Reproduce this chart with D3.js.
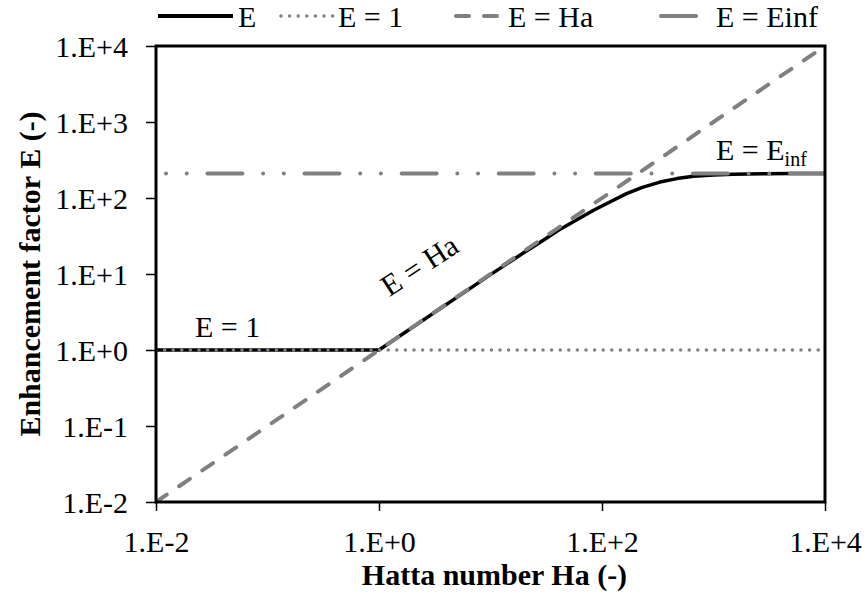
<!DOCTYPE html>
<html>
<head>
<meta charset="utf-8">
<script src="https://cdn.jsdelivr.net/npm/d3@7/dist/d3.min.js"></script>
</head>
<body style="margin:0;background:#fff">
<svg id="chart" width="867" height="598" font-family="Liberation Serif" style="display:block"></svg>
<script>
// Enhancement factor vs Hatta number (log-log)
const haTicks = [1e-2, 1e0, 1e2, 1e4];
const haTickLabels = ["1.E-2", "1.E+0", "1.E+2", "1.E+4"];
const eTicks = [1e-2, 1e-1, 1e0, 1e1, 1e2, 1e3, 1e4];
const eTickLabels = ["1.E-2", "1.E-1", "1.E+0", "1.E+1", "1.E+2", "1.E+3", "1.E+4"];

// E curve
const haE = [0.01, 1, 10, 20, 30, 40, 60, 84, 120, 166, 230, 331, 470, 660, 1000, 1500, 2000, 3000, 5000, 10000];
const eE  = [1, 1, 9.8, 19.2, 28, 37, 52, 69, 90, 114, 138, 162, 180, 193, 201, 205, 207.5, 208.5, 209.3, 209.7];

// Limiting lines
const haOne = [0.01, 10000];
const eOne  = [1, 1];
const haHa  = [0.01, 10000];
const eHa   = [0.01, 10000];
const haInf = [10000, 0.01];
const eInf  = [210, 210];

const seriesNames = ["E", "E = 1", "E = Ha", "E = Einf"];

const setFont = sel => sel
  .attr("font-family", "Liberation Serif")
  .style("font-family", '"Liberation Serif", "Times New Roman", serif')
  .attr("fill", "#000");

const svg = d3.select("#chart");
const margin = { left: 156, right: 42, top: 46, bottom: 96 };
const W = 867, H = 598;

const x = d3.scaleLog().domain([1e-2, 1e4]).range([margin.left, W - margin.right]);
const y = d3.scaleLog().domain([1e-2, 1e4]).range([H - margin.bottom, margin.top]);

const grey = "#808080";
const styles = [
  { stroke: "#000", width: 3.5, dash: null, cap: "butt" },
  { stroke: grey, width: 3.5, dash: "0 8.6", cap: "round" },
  { stroke: grey, width: 4, dash: "13 15", cap: "round" },
  { stroke: grey, width: 4, dash: "35 20.7 0 20.7 0 20.7", cap: "round" }
];

const line = d3.line().x(d => x(d[0])).y(d => y(d[1]));
const zip = (a, b) => a.map((v, i) => [v, b[i]]);
const series = [zip(haE, eE), zip(haOne, eOne), zip(haHa, eHa), zip(haInf, eInf)];

svg.append("defs").append("clipPath").attr("id", "plotClip")
  .append("rect")
  .attr("x", margin.left).attr("y", margin.top)
  .attr("width", W - margin.left - margin.right)
  .attr("height", H - margin.top - margin.bottom);

const plot = svg.append("g").attr("clip-path", "url(#plotClip)");
series.forEach((s, i) => {
  plot.append("path")
    .datum(s)
    .attr("d", line)
    .attr("fill", "none")
    .attr("stroke", styles[i].stroke)
    .attr("stroke-width", styles[i].width)
    .attr("stroke-dasharray", styles[i].dash)
    .attr("stroke-linecap", styles[i].cap)
    .attr("stroke-linejoin", "round");
});

// Plot frame
svg.append("rect")
  .attr("x", margin.left).attr("y", margin.top)
  .attr("width", W - margin.left - margin.right)
  .attr("height", H - margin.top - margin.bottom)
  .attr("fill", "none").attr("stroke", "#000").attr("stroke-width", 3);

// Axes
const xAxis = d3.axisBottom(x).tickValues(haTicks)
  .tickFormat((d, i) => haTickLabels[i]).tickSize(9).tickPadding(8);
const gx = svg.append("g").attr("transform", `translate(0,${H - margin.bottom})`).call(xAxis);
gx.attr("font-family", "Liberation Serif").attr("font-size", 30);
gx.select(".domain").remove();
gx.selectAll(".tick line").attr("stroke", "#000").attr("stroke-width", 1.5);
gx.selectAll(".tick text").attr("dy", null).attr("y", 50).call(setFont);

const yAxis = d3.axisLeft(y).tickValues(eTicks)
  .tickFormat((d, i) => eTickLabels[i]).tickSize(10).tickPadding(18);
const gy = svg.append("g").attr("transform", `translate(${margin.left},0)`).call(yAxis);
gy.attr("font-family", "Liberation Serif").attr("font-size", 30);
gy.select(".domain").remove();
gy.selectAll(".tick line").attr("stroke", "#000").attr("stroke-width", 1.5);
gy.selectAll(".tick text").attr("dy", "0.34em").call(setFont);

// Axis titles
svg.append("text")
  .attr("x", (margin.left + W - margin.right) / 2 + 4).attr("y", 585)
  .attr("text-anchor", "middle").attr("font-size", 30).attr("font-weight", "bold")
  .call(setFont).text("Hatta number Ha (-)");
svg.append("text")
  .attr("transform", `translate(40,${(margin.top + H - margin.bottom) / 2}) rotate(-90)`)
  .attr("text-anchor", "middle").attr("font-size", 30).attr("font-weight", "bold")
  .call(setFont).text("Enhancement factor E (-)");

// Curve annotations
svg.append("text").attr("x", 195).attr("y", 337).attr("font-size", 30).call(setFont).text("E = 1");
svg.append("text")
  .attr("transform", "translate(425,274) rotate(-33)")
  .attr("text-anchor", "middle").attr("font-size", 30).call(setFont).text("E = Ha");
const einfLabel = svg.append("text").attr("x", 716).attr("y", 160).attr("font-size", 30).call(setFont);
einfLabel.append("tspan").text("E = E");
einfLabel.append("tspan").attr("font-size", 20).attr("dy", 6).text("inf");

// Legend
const legendX = [158, 281, 456, 661];
const legendLen = [75, 52, 47, 50];
const legendY = 16;
const lg = svg.append("g");
seriesNames.forEach((name, i) => {
  const x0 = legendX[i];
  lg.append("line")
    .attr("x1", x0).attr("x2", x0 + legendLen[i])
    .attr("y1", legendY).attr("y2", legendY)
    .attr("stroke", styles[i].stroke)
    .attr("stroke-width", i === 0 ? 4 : styles[i].width)
    .attr("stroke-dasharray", styles[i].dash)
    .attr("stroke-linecap", styles[i].cap);
  lg.append("text")
    .attr("x", x0 + legendLen[i] + 5).attr("y", legendY + 11)
    .attr("font-size", 30).call(setFont).text(name);
});
</script>
</body>
</html>
